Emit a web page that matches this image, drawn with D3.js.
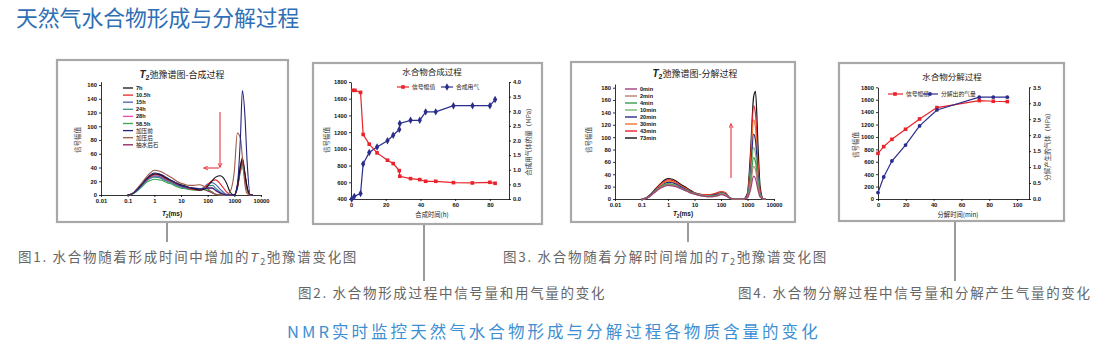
<!DOCTYPE html>
<html><head><meta charset="utf-8">
<script src="https://cdn.jsdelivr.net/npm/d3@7"></script>
<style>body{margin:0;background:#fff}svg{display:block}</style>
</head><body>
<svg id="c" width="1108" height="350"></svg>
<script>
// ---------- DATA ----------
const T2grid = [0.1,0.15,0.2,0.3,0.5,0.7,1,1.5,2,3,5,7,10,15,20,30,50,70,100,150,200,300,500,700,1000,1300,1700,2000,2500,3000,4000,5000];
const synthNames = ["7h","10.5h","15h","24h","28h","58.5h","加压前","加压后","抽水后石"];
const synth7h   = [0,2,6,13,23,28,31,30,28,24,20,17,15,13,11,9,7,8,13,21,26,28,18,4,0,12,42,52,30,12,0,0];
const synth10h  = [0,2,6,13,22,27,30,29,27,23,19,16,14,12,10,8,7,9,15,21,22,16,5,0,0,10,38,46,28,10,0,0];
const synth15h  = [0,2,5,12,21,26,28,27,25,22,18,15,13,11,10,9,8,11,16,18,15,8,1,0,0,12,40,50,30,10,0,0];
const synth24h  = [0,2,5,11,20,24,26,25,23,20,16,14,12,10,9,8,8,10,13,14,10,4,0,0,0,10,36,44,26,8,0,0];
const synth28h  = [0,2,5,12,21,25,27,26,24,21,17,14,12,10,9,8,8,9,11,10,6,2,0,0,0,12,40,47,28,9,0,0];
const synth58h  = [0,1,4,10,18,21,23,22,21,18,15,12,10,9,8,7,7,8,7,4,1,0,0,0,0,10,34,40,24,8,0,0];
const synthPre  = [0,2,6,13,23,29,32,31,29,25,20,17,14,12,11,10,9,9,10,10,7,3,0,0,0,15,85,152,115,50,0,0];
const synthPost = [0,2,7,15,26,32,36,35,33,29,24,20,17,15,14,14,15,13,9,4,1,0,0,5,35,90,82,55,15,2,0,0];
const synthDrain= [0,2,6,13,22,27,30,29,27,23,19,16,14,12,11,10,9,8,6,3,1,0,0,0,0,14,44,54,32,12,0,0];

const decompNames = ["0min","2min","4min","10min","20min","30min","43min","73min"];
const dec0  = [0,1,4,10,17,20,22,21,20,17,13,10,8,6,5,4,4,5,7,5,2,0,0,0,2,15,37,33,14,3,0,0];
const dec2  = [0,1,4,10,18,21,23,22,21,17,13,10,8,6,5,4,4,5,8,6,2,0,0,0,3,22,53,48,20,5,0,0];
const dec4  = [0,1,4,11,18,22,24,23,21,18,14,11,8,6,5,4,5,6,8,6,2,0,0,0,3,27,67,60,25,6,0,0];
const dec10 = [0,1,4,11,19,23,25,24,22,18,14,11,9,7,6,5,5,6,9,7,2,0,0,0,4,33,83,74,30,7,0,0];
const dec20 = [0,1,5,12,20,24,27,26,24,20,15,12,9,7,6,5,6,7,10,8,3,0,0,0,5,42,105,95,38,9,0,0];
const dec30 = [0,1,5,12,21,26,29,28,25,21,16,12,9,7,6,6,6,8,11,9,3,0,0,0,6,50,128,115,45,10,0,0];
const dec43 = [0,2,5,13,23,28,31,30,27,22,17,13,10,8,7,7,8,10,12,10,3,0,0,0,7,60,151,138,55,12,0,0];
const dec73 = [0,2,6,14,24,30,33,32,29,24,18,14,10,8,7,6,7,9,11,9,3,0,0,0,10,75,165,174,85,20,0,0];

const synthTime   = [1,2.3,5.5,7,10.5,15,21,24.3,27.8,28.1,34.3,39.6,43,48.8,59,69.9,80,83];
const synthSignal = [1700,1700,1676,1172,1056,952,864,824,740,672,644,632,612,612,596,592,600,588];
const synthTimeGas= [0.4,1.9,5.5,7,10.5,15,21,24.3,27.8,28.1,34.3,39.6,43,48.8,59,70,80,83];
const synthGas    = [0,0.09,0.19,1.2,1.59,1.78,1.99,2.18,2.38,2.58,2.69,2.69,2.98,2.98,3.19,3.19,3.19,3.4];

const decTime   = [0,4.1,10,19.8,29.9,42.4,72.8,82.9,93];
const decSignal = [736,844,962,1124,1290,1473,1586,1575,1570];
const decGas    = [0.2,0.69,1.19,1.69,2.29,2.79,3.19,3.19,3.19];

const logTicks = [0.01,0.1,1,10,100,1000,10000];
const logTickLabels = ["0.01","0.1","1","10","100","1000","10000"];

// ---------- DRAW ----------
const svg = d3.select("#c");
const CJK = "'Noto Sans CJK SC','Noto Sans',sans-serif";
const LAT = "'Liberation Sans',Arial,sans-serif";
const RED = "#e8232b", NAVY = "#2b2d8c";

const defs = svg.append("defs");
defs.append("marker").attr("id","arr").attr("viewBox","0 0 10 10").attr("refX",8).attr("refY",5)
  .attr("markerWidth",5).attr("markerHeight",5).attr("orient","auto-start-reverse")
  .append("path").attr("d","M0,1 L9,5 L0,9").attr("fill","none").attr("stroke",RED).attr("stroke-width",1.6);

// header
svg.append("text").attr("x",16).attr("y",26).text("天然气水合物形成与分解过程")
  .attr("font-family",CJK).attr("font-size",21.8).attr("fill","#2f6fb6");

// frames
const frames = [[57,60,231,162],[313,63,229,161],[571,62,224,160],[839,63,225,158]];
frames.forEach(f=>{
  svg.append("rect").attr("x",f[0]).attr("y",f[1]).attr("width",f[2]).attr("height",f[3])
    .attr("fill","#fff").attr("stroke","#a8a8a8").attr("stroke-width",2.2);
});

// connectors
const conns = [[167,223,242],[424,225,281],[688,223,242],[955,222,281]];
conns.forEach(c=>svg.append("line").attr("x1",c[0]).attr("x2",c[0]).attr("y1",c[1]).attr("y2",c[2])
  .attr("stroke","#9a9a9a").attr("stroke-width",2));

// captions
function caption(x,y,parts){
  const t = svg.append("text").attr("x",x).attr("y",y).attr("font-family",CJK).attr("font-size",13.5)
    .attr("fill","#666").attr("letter-spacing",1.7);
  parts.forEach(p=>{
    const s = t.append("tspan").text(p.t);
    if(p.i) s.attr("font-style","italic").attr("font-family",LAT);
    if(p.sub) s.attr("font-size",9).attr("dy",3);
    if(p.up) s.attr("dy",-3);
  });
}
caption(18,262,[{t:"图1. 水合物随着形成时间中增加的"},{t:"T",i:1},{t:"2",sub:1},{t:"弛豫谱变化图",up:1}]);
caption(503,262,[{t:"图3. 水合物随着分解时间增加的"},{t:"T",i:1},{t:"2",sub:1},{t:"弛豫谱变化图",up:1}]);
caption(298,298,[{t:"图2. 水合物形成过程中信号量和用气量的变化"}]);
caption(738,298,[{t:"图4. 水合物分解过程中信号量和分解产生气量的变化"}]);
svg.append("text").attr("x",287).attr("y",338)
  .text("NMR实时监控天然气水合物形成与分解过程各物质含量的变化")
  .attr("font-family",CJK).attr("font-size",16.5).attr("letter-spacing",3.05).attr("fill","#3d8fd3");

function styleAxis(g){
  g.selectAll("path,line").attr("stroke","#000").attr("stroke-width",0.8);
  g.selectAll("text").attr("font-size",5.8).attr("font-weight","bold").attr("font-family",LAT).attr("fill","#111");
}
function vlabel(x,y,txt){
  svg.append("text").attr("transform",`translate(${x},${y}) rotate(-90)`).attr("text-anchor","middle")
    .attr("font-family",CJK).attr("font-size",6.5).attr("fill","#333").text(txt);
}
function t2title(x,y,rest){
  const t = svg.append("text").attr("x",x).attr("y",y).attr("text-anchor","middle").attr("font-family",CJK)
    .attr("font-size",9).attr("fill","#222");
  t.append("tspan").text("T").attr("font-family",LAT).attr("font-style","italic").attr("font-weight","bold").attr("font-size",10);
  t.append("tspan").text("2").attr("font-family",LAT).attr("font-weight","bold").attr("font-size",7).attr("dy",2);
  t.append("tspan").text(rest).attr("dy",-2);
}
function t2xlabel(x,y){
  const t = svg.append("text").attr("x",x).attr("y",y).attr("text-anchor","middle").attr("font-family",LAT)
    .attr("font-size",6.5).attr("font-weight","bold").attr("fill","#111");
  t.append("tspan").text("T").attr("font-style","italic");
  t.append("tspan").text("2").attr("font-size",4.5).attr("dy",1.5);
  t.append("tspan").text("(ms)").attr("dy",-1.5);
}
const intFmt = d3.format("d"), oneFmt = d3.format(".1f");

// ---- Panel 1 ----
{
  const x = d3.scaleLog().domain([0.01,10000]).range([101,261]);
  const y = d3.scaleLinear().domain([0,165]).range([195,81.6]);
  const gx = svg.append("g").attr("transform","translate(0,195)")
    .call(d3.axisBottom(x).tickValues(logTicks).tickFormat((d,i)=>logTickLabels[i]).tickSize(2).tickPadding(2).tickSizeOuter(0));
  styleAxis(gx);
  const gy = svg.append("g").attr("transform","translate(101,0)")
    .call(d3.axisLeft(y).tickValues(d3.range(0,161,20)).tickFormat(intFmt).tickSize(2).tickPadding(2).tickSizeOuter(0));
  styleAxis(gy);
  const series = [synth7h,synth10h,synth15h,synth24h,synth28h,synth58h,synthPre,synthPost,synthDrain];
  const cols = ["#111","#e8232b","#4f5fb0","#3a8f92","#e64aa8","#38a84a","#23237d","#9d5a44","#8a1f5a"];
  const line = d3.line().x((d,i)=>x(T2grid[i])).y(d=>y(d)).curve(d3.curveMonotoneX);
  const order = [8,5,4,3,2,1,0,7,6];
  order.forEach(k=>svg.append("path").attr("d",line(series[k])).attr("fill","none").attr("stroke",cols[k]).attr("stroke-width",1.1));
  synthNames.forEach((n,i)=>{
    const yy = 88 + i*7.1;
    svg.append("line").attr("x1",123).attr("x2",133).attr("y1",yy).attr("y2",yy).attr("stroke",cols[i]).attr("stroke-width",1.3);
    svg.append("text").attr("x",136).attr("y",yy+2).text(n).attr("font-size",5.6)
      .attr("font-family",i<6?LAT:CJK).attr("font-weight",i<6?"bold":"normal").attr("fill","#111");
  });
  t2title(182,78,"弛豫谱图-合成过程");
  vlabel(80,140,"信号幅值");
  t2xlabel(172,216);
  svg.append("line").attr("x1",220).attr("x2",220).attr("y1",112).attr("y2",167).attr("stroke",RED).attr("stroke-width",1).attr("marker-end","url(#arr)");
  svg.append("line").attr("x1",219).attr("x2",204).attr("y1",168).attr("y2",168).attr("stroke",RED).attr("stroke-width",1).attr("marker-end","url(#arr)");
}

// ---- Panel 3 ----
{
  const x = d3.scaleLog().domain([0.01,10000]).range([615,774]);
  const y = d3.scaleLinear().domain([0,186]).range([199,84]);
  const gx = svg.append("g").attr("transform","translate(0,199)")
    .call(d3.axisBottom(x).tickValues(logTicks).tickFormat((d,i)=>logTickLabels[i]).tickSize(2).tickPadding(2).tickSizeOuter(0));
  styleAxis(gx);
  const gy = svg.append("g").attr("transform","translate(615,0)")
    .call(d3.axisLeft(y).tickValues(d3.range(0,181,20)).tickFormat(intFmt).tickSize(2).tickPadding(2).tickSizeOuter(0));
  styleAxis(gy);
  const series = [dec0,dec2,dec4,dec10,dec20,dec30,dec43,dec73];
  const cols = ["#a0407a","#b88070","#3a9a50","#74b874","#2a2a8a","#f07828","#e8232b","#111"];
  const line = d3.line().x((d,i)=>x(T2grid[i])).y(d=>y(d)).curve(d3.curveMonotoneX);
  [7,6,5,4,3,2,1,0].forEach(k=>svg.append("path").attr("d",line(series[k])).attr("fill","none").attr("stroke",cols[k]).attr("stroke-width",1.2));
  decompNames.forEach((n,i)=>{
    const yy = 89 + i*7;
    svg.append("line").attr("x1",625).attr("x2",637).attr("y1",yy).attr("y2",yy).attr("stroke",cols[i]).attr("stroke-width",1.4);
    svg.append("text").attr("x",640).attr("y",yy+2).text(n).attr("font-size",5.6)
      .attr("font-family",LAT).attr("font-weight","bold").attr("fill","#111");
  });
  t2title(695,77,"弛豫谱图-分解过程");
  vlabel(591,140,"信号幅值");
  t2xlabel(683,216);
  svg.append("line").attr("x1",731).attr("x2",731).attr("y1",178).attr("y2",124).attr("stroke",RED).attr("stroke-width",1).attr("marker-end","url(#arr)");
}

function marker(sel,type,size,color){
  if(type==="square") return sel.append("rect").attr("x",-size/2).attr("y",-size/2).attr("width",size).attr("height",size).attr("fill",color);
  if(type==="diamond") return sel.append("path").attr("d",d3.symbol(d3.symbolDiamond,size*size*0.9)()).attr("fill",color);
  return sel.append("circle").attr("r",size/2).attr("fill",color);
}

// ---- Panel 2 ----
{
  const x = d3.scaleLinear().domain([0,91]).range([351,509]);
  const yl = d3.scaleLinear().domain([400,1800]).range([199,82]);
  const yr = d3.scaleLinear().domain([0,4]).range([199,82]);
  styleAxis(svg.append("g").attr("transform","translate(0,199)")
    .call(d3.axisBottom(x).tickValues([0,20,40,60,80]).tickFormat(intFmt).tickSize(2).tickPadding(2).tickSizeOuter(0)));
  styleAxis(svg.append("g").attr("transform","translate(351,0)")
    .call(d3.axisLeft(yl).tickValues(d3.range(400,1801,200)).tickFormat(intFmt).tickSize(2).tickPadding(2).tickSizeOuter(0)));
  styleAxis(svg.append("g").attr("transform","translate(509,0)")
    .call(d3.axisRight(yr).tickValues(d3.range(0,4.01,0.5)).tickFormat(oneFmt).tickSize(2).tickPadding(2).tickSizeOuter(0)));
  const lr = d3.line().x((d,i)=>x(synthTime[i])).y(d=>yl(d));
  const lb = d3.line().x((d,i)=>x(synthTimeGas[i])).y(d=>yr(d));
  svg.append("path").attr("d",lb(synthGas)).attr("fill","none").attr("stroke",NAVY).attr("stroke-width",1.2);
  svg.append("path").attr("d",lr(synthSignal)).attr("fill","none").attr("stroke",RED).attr("stroke-width",1.2);
  synthGas.forEach((d,i)=>marker(svg.append("g").attr("transform",`translate(${x(synthTimeGas[i])},${yr(d)})`),"diamond",4.2,NAVY));
  synthSignal.forEach((d,i)=>marker(svg.append("g").attr("transform",`translate(${x(synthTime[i])},${yl(d)})`),"square",3.6,RED));
  svg.append("line").attr("x1",397).attr("x2",409).attr("y1",87).attr("y2",87).attr("stroke",RED).attr("stroke-width",1.2);
  marker(svg.append("g").attr("transform","translate(403,87)"),"square",3.6,RED);
  svg.append("text").attr("x",412).attr("y",89).text("信号幅值").attr("font-family",CJK).attr("font-size",5.8).attr("fill","#222");
  svg.append("line").attr("x1",441).attr("x2",453).attr("y1",87).attr("y2",87).attr("stroke",NAVY).attr("stroke-width",1.2);
  marker(svg.append("g").attr("transform","translate(447,87)"),"diamond",4.2,NAVY);
  svg.append("text").attr("x",456).attr("y",89).text("合成用气").attr("font-family",CJK).attr("font-size",5.8).attr("fill","#222");
  svg.append("text").attr("x",432).attr("y",75).attr("text-anchor","middle").text("水合物合成过程")
    .attr("font-family",CJK).attr("font-size",8.5).attr("fill","#222");
  vlabel(329,140,"信号幅值");
  vlabel(531,140,"合成用气体的量（MPa）");
  svg.append("text").attr("x",432).attr("y",217).attr("text-anchor","middle").text("合成时间(h)")
    .attr("font-family",CJK).attr("font-size",6.3).attr("fill","#222");
}

// ---- Panel 4 ----
{
  const x = d3.scaleLinear().domain([0,108.6]).range([878,1029]);
  const yl = d3.scaleLinear().domain([0,1800]).range([199,87.3]);
  const yr = d3.scaleLinear().domain([0,3.5]).range([199,87.3]);
  styleAxis(svg.append("g").attr("transform","translate(0,199)")
    .call(d3.axisBottom(x).tickValues([0,20,40,60,80,100]).tickFormat(intFmt).tickSize(2).tickPadding(2).tickSizeOuter(0)));
  styleAxis(svg.append("g").attr("transform","translate(878,0)")
    .call(d3.axisLeft(yl).tickValues(d3.range(0,1801,200)).tickFormat(intFmt).tickSize(2).tickPadding(2).tickSizeOuter(0)));
  styleAxis(svg.append("g").attr("transform","translate(1029,0)")
    .call(d3.axisRight(yr).tickValues(d3.range(0,3.51,0.5)).tickFormat(oneFmt).tickSize(2).tickPadding(2).tickSizeOuter(0)));
  const lr = d3.line().x((d,i)=>x(decTime[i])).y(d=>yl(d));
  const lb = d3.line().x((d,i)=>x(decTime[i])).y(d=>yr(d));
  svg.append("path").attr("d",lr(decSignal)).attr("fill","none").attr("stroke",RED).attr("stroke-width",1.2);
  svg.append("path").attr("d",lb(decGas)).attr("fill","none").attr("stroke",NAVY).attr("stroke-width",1.2);
  decSignal.forEach((d,i)=>marker(svg.append("g").attr("transform",`translate(${x(decTime[i])},${yl(d)})`),"square",3.6,RED));
  decGas.forEach((d,i)=>marker(svg.append("g").attr("transform",`translate(${x(decTime[i])},${yr(d)})`),"circle",3.8,NAVY));
  svg.append("line").attr("x1",888).attr("x2",903).attr("y1",94).attr("y2",94).attr("stroke",RED).attr("stroke-width",1.2);
  marker(svg.append("g").attr("transform","translate(895,94)"),"square",3.6,RED);
  svg.append("text").attr("x",906).attr("y",96).text("信号幅值").attr("font-family",CJK).attr("font-size",5.8).attr("fill","#222");
  svg.append("line").attr("x1",923).attr("x2",938).attr("y1",94).attr("y2",94).attr("stroke",NAVY).attr("stroke-width",1.2);
  marker(svg.append("g").attr("transform","translate(930,94)"),"circle",3.8,NAVY);
  svg.append("text").attr("x",941).attr("y",96).text("分解出的气量").attr("font-family",CJK).attr("font-size",5.8).attr("fill","#222");
  svg.append("text").attr("x",952).attr("y",80).attr("text-anchor","middle").text("水合物分解过程")
    .attr("font-family",CJK).attr("font-size",8.5).attr("fill","#222");
  vlabel(858,145,"信号幅值");
  vlabel(1050,145,"分解产生的气体（MPa）");
  svg.append("text").attr("x",958).attr("y",217).attr("text-anchor","middle").text("分解时间(min)")
    .attr("font-family",CJK).attr("font-size",6.3).attr("fill","#222");
}
</script>
</body></html>
